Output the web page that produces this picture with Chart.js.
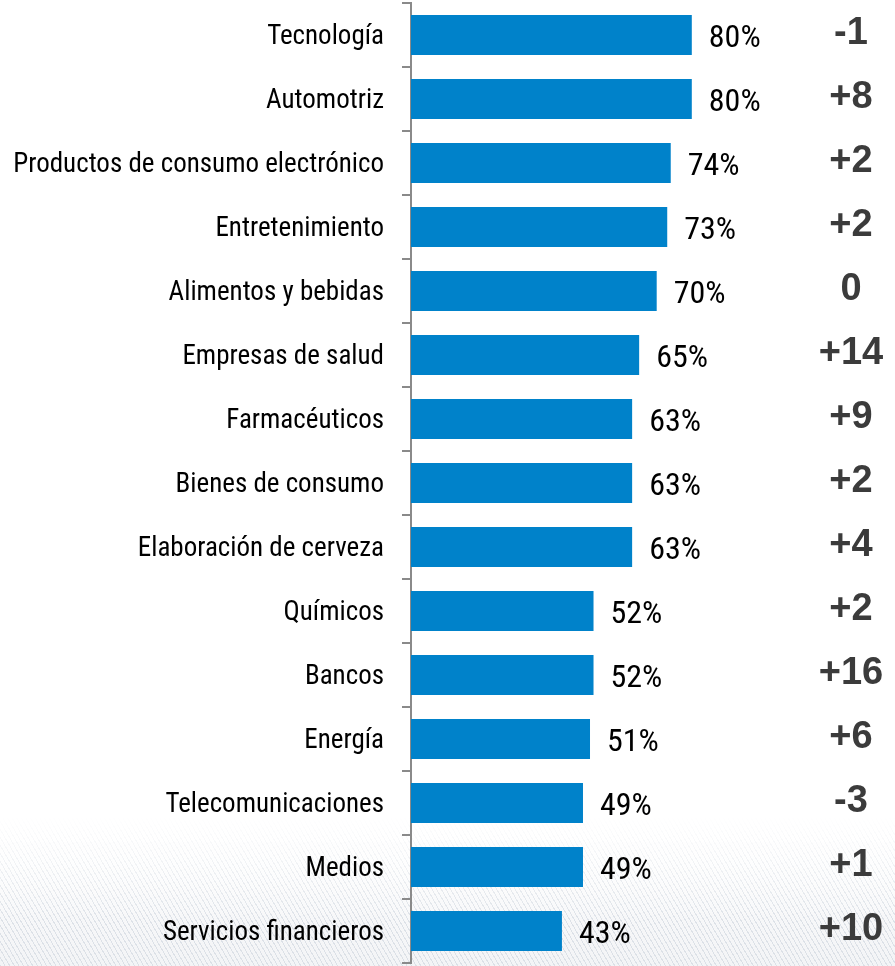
<!DOCTYPE html>
<html>
<head>
<meta charset="utf-8">
<script src="https://cdn.jsdelivr.net/npm/chart.js@4"></script>
<style>
  html, body { margin: 0; padding: 0; background: #fff; }
  #wrap { position: relative; width: 895px; height: 966px; overflow: hidden; }
  /* faint diagonal hatching fading in toward the bottom */
  #wrap::before {
    content: ''; position: absolute; left: 0; right: 0; bottom: 0; height: 150px;
    background: repeating-linear-gradient(60deg, rgba(200,208,218,0.55) 0 1px, rgba(255,255,255,0) 1px 4px),
                linear-gradient(to bottom, #fff, #f3f4f6);
    -webkit-mask-image: linear-gradient(to bottom, transparent, #000 70%);
    mask-image: linear-gradient(to bottom, transparent, #000 70%);
  }
  canvas { position: relative; }
</style>
</head>
<body>
<div id="wrap"><canvas id="chartID"></canvas></div>
<script>
const sectors = ['Tecnología', 'Automotriz', 'Productos de consumo electrónico', 'Entretenimiento',
  'Alimentos y bebidas', 'Empresas de salud', 'Farmacéuticos', 'Bienes de consumo',
  'Elaboración de cerveza', 'Químicos', 'Bancos', 'Energía', 'Telecomunicaciones', 'Medios',
  'Servicios financieros']
const scores = [80, 80, 74, 73, 70, 65, 63, 63, 63, 52, 52, 51, 49, 49, 43]
const changes = ['-1', '+8', '+2', '+2', '0', '+14', '+9', '+2', '+4', '+2', '+16', '+6', '-3', '+1', '+10']

const narrow = "'Liberation Sans Narrow', 'Arial Narrow', 'Roboto Condensed', sans-serif"

// percent at the end of each bar, change figure in the right column
const barText = {
  id: 'barText',
  afterDatasetsDraw(chart) {
    const ctx = chart.ctx
    const meta = chart.getDatasetMeta(0)
    ctx.save()
    ctx.textBaseline = 'middle'
    meta.data.forEach(function(bar, i) {
      ctx.fillStyle = '#000'
      ctx.textAlign = 'left'
      ctx.font = '420 32px ' + narrow
      ctx.fillText(scores[i] + '%', bar.x + 17, bar.y + 4)
      ctx.fillStyle = '#3b3b3b'
      ctx.textAlign = 'center'
      ctx.font = 'bold 38px "Liberation Sans", Arial, sans-serif'
      ctx.fillText(changes[i], 851, bar.y - 1)
    })
    ctx.restore()
  }
}

let chartCtx = document.getElementById('chartID').getContext('2d')
let barChart = new Chart(chartCtx, {
  type: 'bar',
  data: {
    labels: sectors,
    datasets: [{
      data: scores,
      backgroundColor: '#0082ca',
      borderWidth: 0,
      barPercentage: 0.625,
      categoryPercentage: 1,
    }],
  },
  options: {
    indexAxis: 'y',
    responsive: true,
    maintainAspectRatio: false,
    animation: false,
    layout: { padding: { top: 3, bottom: 3, right: 133, left: 0 } },
    plugins: {
      legend: { display: false },
      tooltip: { enabled: false },
    },
    scales: {
      x: {
        display: false,
        min: 0,
        max: 100,
      },
      y: {
        offset: true,
        grid: {
          offset: true,
          drawOnChartArea: false,
          color: '#8a8a8a',
          lineWidth: 2,
          tickLength: 9,
        },
        border: { display: true, color: '#8a8a8a', width: 2 },
        ticks: {
          color: '#000',
          padding: 18,
          labelOffset: 2,
          font: { family: narrow, size: 27, weight: '450' },
        },
        // fixed label column, no extra room above and below the first and last label
        afterFit(scale) {
          scale.width = 411
          scale.paddingTop = 0
          scale.paddingBottom = 0
        },
      },
    },
  },
  plugins: [barText],
})
</script>
</body>
</html>
